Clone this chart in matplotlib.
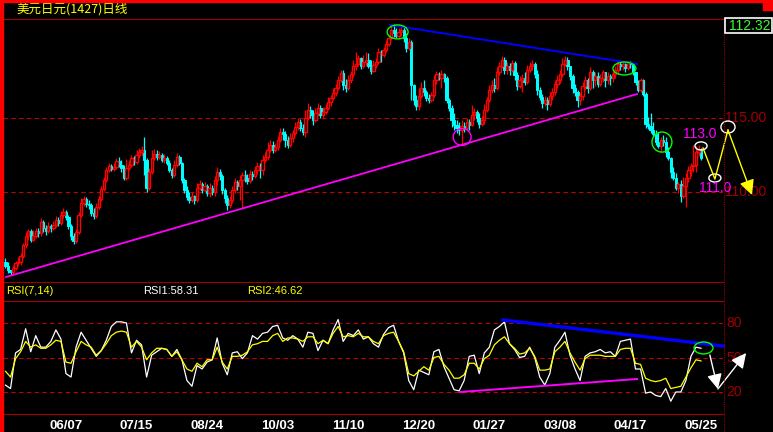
import matplotlib
matplotlib.use('Agg')
import matplotlib.pyplot as plt
import matplotlib.transforms as mtransforms
from matplotlib.lines import Line2D
from matplotlib.patches import Ellipse, Rectangle
import numpy as np

W, H = 773, 432

# 日线 K 线数据 (价格由图上读出)
first_open = 105.31
closes = [
    105.04, 104.77, 104.64, 104.91, 105.24,
    105.31, 105.71, 106.45, 107.06, 107.39,
    106.79, 107.06, 107.39, 107.26, 108.00,
    107.60, 107.39, 107.73, 107.60, 107.80,
    108.14, 107.93, 108.47, 108.67, 108.34,
    107.73, 107.06, 106.72, 107.33, 108.47,
    109.28, 109.55, 109.21, 109.14, 108.61,
    108.40, 109.01, 109.55, 110.22, 110.83,
    111.50, 111.77, 111.57, 111.70, 112.11,
    111.84, 111.63, 110.96, 111.63, 111.84,
    112.31, 112.04, 112.51, 112.71, 112.85,
    112.17, 110.29, 111.37, 112.31, 112.58,
    112.38, 112.51, 112.17, 112.31, 111.97,
    111.50, 111.16, 111.84, 112.38, 111.97,
    110.83, 110.16, 109.68, 109.48, 109.75,
    109.48, 110.29, 110.56, 110.16, 110.42,
    109.95, 110.29, 110.02, 110.83, 111.37,
    111.10, 110.16, 109.62, 109.14, 109.48,
    110.16, 110.69, 110.42, 110.83, 111.16,
    110.96, 110.76, 111.23, 111.10, 111.50,
    111.77, 111.50, 112.17, 112.38, 112.85,
    113.18, 112.85, 113.05, 113.52, 114.06,
    113.92, 113.52, 113.18, 113.65, 113.99,
    114.39, 114.73, 114.33, 114.06, 115.00,
    115.54, 115.20, 114.87, 115.34, 115.67,
    115.20, 115.40, 115.67, 116.08, 116.35,
    116.68, 117.02, 117.56, 118.03, 117.22,
    117.02, 117.56, 117.96, 118.50, 118.63,
    119.04, 118.50, 118.77, 118.90, 118.50,
    118.16, 118.57, 118.77, 119.44, 119.24,
    119.58, 119.98, 120.38, 120.92, 120.72,
    120.52, 120.79, 120.92, 120.38, 119.71,
    120.11, 117.22, 116.21, 115.81, 116.48,
    117.02, 116.75, 116.35, 116.21, 116.55,
    117.56, 117.96, 117.69, 117.96, 117.69,
    116.21, 115.67, 114.87, 114.53, 114.33,
    114.19, 114.46, 114.33, 114.73, 114.53,
    115.20, 115.40, 115.00, 114.60, 114.87,
    115.54, 116.21, 116.88, 117.22, 117.02,
    118.10, 118.50, 118.90, 118.23, 118.50,
    118.23, 118.70, 117.89, 117.15, 117.56,
    117.69, 117.42, 118.23, 118.50, 118.63,
    117.96, 116.88, 116.41, 116.01, 116.21,
    115.94, 116.48, 116.75, 117.29, 117.56,
    117.96, 118.63, 118.90, 118.50, 117.83,
    117.02, 116.75, 116.21, 116.48, 117.15,
    117.56, 117.02, 118.10, 117.56, 117.83,
    117.29, 117.69, 118.10, 117.56, 117.83,
    117.69, 117.96, 118.23, 118.63, 118.50,
    118.63, 118.37, 118.70, 118.63, 118.10,
    117.42, 116.88, 117.56, 116.61, 114.60,
    114.46, 114.19, 113.92, 113.38, 113.11,
    113.52, 113.38, 112.71, 112.31, 111.37,
    110.96, 110.29, 110.56, 109.75, 110.42,
    110.96, 111.50, 111.77, 111.84, 112.71,
    112.85, 112.32,
]
highs = [
    105.58, 105.31, 104.77, 105.10, 105.38,
    105.65, 105.92, 106.59, 107.33, 107.53,
    107.53, 107.46, 107.60, 107.60, 108.27,
    108.14, 107.80, 108.00, 107.87, 108.07,
    108.40, 108.34, 108.74, 108.94, 108.81,
    108.47, 107.87, 107.26, 107.53, 108.67,
    109.62, 109.75, 109.68, 109.48, 109.28,
    108.94, 109.28, 109.75, 110.42, 111.03,
    111.70, 111.97, 111.90, 111.97, 112.31,
    112.38, 112.17, 111.84, 112.24, 112.17,
    112.51, 112.44, 112.85, 112.98, 113.11,
    113.72, 112.31, 111.63, 112.85, 112.91,
    112.85, 112.78, 112.64, 112.58, 112.44,
    112.17, 111.63, 112.17, 112.64, 112.51,
    112.04, 110.96, 110.42, 110.02, 110.02,
    109.82, 110.63, 110.83, 110.69, 110.69,
    110.56, 110.63, 110.49, 111.10, 111.70,
    111.57, 111.23, 110.29, 109.82, 109.75,
    110.42, 110.96, 110.83, 111.16, 111.37,
    111.50, 111.23, 111.50, 111.43, 111.77,
    112.04, 111.97, 112.51, 112.71, 113.38,
    113.52, 113.45, 113.32, 113.79, 114.33,
    114.33, 114.12, 113.79, 113.99, 114.19,
    114.73, 115.00, 114.93, 114.60, 115.54,
    116.01, 115.81, 115.54, 115.67, 116.01,
    115.87, 115.74, 115.94, 116.41, 116.55,
    117.02, 117.29, 117.83, 118.23, 118.23,
    117.62, 117.89, 118.16, 118.90, 119.44,
    119.24, 119.10, 119.24, 119.44, 119.37,
    118.90, 118.90, 119.04, 119.71, 119.58,
    119.78, 120.25, 120.58, 121.19, 121.33,
    121.06, 121.06, 121.19, 121.13, 120.72,
    120.38, 120.25, 117.29, 116.55, 117.02,
    117.42, 117.56, 116.88, 116.61, 116.75,
    117.89, 118.16, 118.10, 118.23, 118.03,
    117.83, 116.35, 115.87, 115.34, 114.87,
    114.73, 114.87, 114.73, 115.00, 114.93,
    115.87, 115.67, 115.54, 115.34, 115.13,
    115.94, 116.41, 117.22, 117.56, 117.69,
    118.43, 118.77, 119.17, 119.10, 118.77,
    118.70, 118.90, 118.84, 118.10, 117.83,
    117.96, 118.10, 118.57, 118.77, 118.90,
    118.77, 118.23, 117.08, 116.61, 116.48,
    116.41, 116.75, 117.02, 117.56, 117.89,
    118.23, 119.04, 119.17, 119.10, 118.50,
    117.96, 117.29, 116.88, 116.75, 117.42,
    117.83, 117.69, 118.43, 118.23, 118.10,
    118.10, 117.96, 118.23, 118.10, 118.10,
    117.96, 118.16, 118.50, 118.84, 118.77,
    118.77, 118.70, 118.84, 118.84, 118.63,
    118.10, 117.56, 117.69, 117.62, 116.75,
    115.07, 115.34, 114.73, 114.19, 114.06,
    113.72, 113.86, 113.72, 113.05, 112.38,
    111.70, 111.30, 110.69, 110.83, 111.03,
    111.30, 111.77, 111.97, 113.18, 113.11,
    113.18, 112.98,
]
lows = [
    104.91, 104.57, 104.43, 104.50, 104.77,
    105.04, 105.10, 105.58, 106.25, 106.79,
    106.66, 106.72, 106.92, 106.99, 107.06,
    107.33, 107.12, 107.26, 107.33, 107.46,
    107.66, 107.73, 107.80, 108.27, 108.14,
    107.53, 106.79, 106.52, 106.59, 107.19,
    108.34, 109.08, 109.01, 108.88, 108.40,
    108.20, 108.27, 108.88, 109.41, 110.09,
    110.69, 111.37, 111.43, 111.43, 111.57,
    111.70, 111.37, 110.83, 110.83, 111.50,
    111.70, 111.84, 111.90, 112.31, 112.44,
    111.16, 110.02, 110.16, 111.23, 112.17,
    112.17, 112.24, 112.04, 111.97, 111.84,
    111.37, 110.96, 111.03, 111.70, 111.84,
    110.63, 109.95, 109.48, 109.28, 109.35,
    109.21, 109.35, 110.16, 109.95, 110.02,
    109.75, 109.68, 109.82, 109.75, 110.49,
    110.83, 109.89, 109.28, 108.81, 108.94,
    109.28, 109.95, 110.16, 109.48, 108.94,
    110.69, 110.56, 110.63, 110.83, 110.96,
    111.23, 110.96, 111.16, 112.04, 112.17,
    112.71, 112.64, 112.71, 112.85, 113.38,
    113.52, 113.05, 112.98, 113.05, 113.38,
    113.86, 114.19, 114.12, 113.86, 113.72,
    114.87, 115.00, 114.53, 114.73, 115.13,
    115.00, 115.00, 115.27, 115.54, 115.81,
    116.21, 116.48, 116.88, 117.42, 116.88,
    116.75, 116.88, 117.35, 117.76, 118.23,
    118.50, 118.30, 118.37, 118.50, 118.37,
    117.96, 118.10, 118.37, 118.63, 118.77,
    119.10, 119.44, 119.84, 120.25, 120.45,
    120.38, 120.38, 120.52, 120.11, 119.44,
    119.58, 116.21, 115.87, 115.54, 115.54,
    116.35, 116.48, 116.14, 116.01, 116.08,
    116.41, 117.29, 117.56, 117.02, 117.42,
    116.01, 115.47, 114.39, 114.19, 113.99,
    113.86, 113.18, 114.06, 114.12, 114.19,
    114.46, 114.87, 114.73, 114.33, 114.46,
    114.60, 115.40, 116.08, 116.68, 116.75,
    116.88, 117.89, 118.37, 117.96, 117.96,
    117.89, 118.10, 117.56, 116.88, 117.02,
    116.75, 117.22, 117.29, 118.10, 118.23,
    117.69, 116.55, 116.21, 115.67, 115.81,
    115.54, 115.81, 116.21, 116.55, 117.02,
    117.35, 117.76, 118.50, 118.23, 117.56,
    116.68, 116.48, 115.74, 115.87, 116.21,
    116.88, 116.68, 116.88, 117.02, 117.15,
    117.08, 117.15, 117.42, 117.08, 117.29,
    117.22, 117.42, 117.69, 117.96, 118.23,
    118.23, 118.10, 118.23, 118.37, 117.89,
    117.22, 116.75, 116.75, 116.48, 114.33,
    114.26, 113.99, 113.79, 113.18, 112.98,
    112.71, 113.11, 112.38, 112.17, 110.96,
    110.83, 110.16, 109.95, 109.35, 109.62,
    109.01, 110.69, 111.10, 111.37, 111.37,
    112.44, 112.17,
]

# RSI 读数, 每两根 K 线一个点
rsi_bars = list(range(0, 277, 2))
rsi1 = [
    26, 23, 54, 57, 75, 55, 69, 59, 59, 64,
    74, 66, 36, 33, 59, 72, 65, 58, 51, 56,
    65, 77, 81, 81, 80, 54, 65, 61, 33, 52,
    55, 58, 57, 51, 57, 48, 30, 25, 43, 40,
    46, 48, 67, 45, 35, 54, 55, 49, 54, 69,
    66, 71, 72, 77, 78, 67, 65, 69, 66, 59,
    72, 71, 56, 65, 62, 74, 83, 64, 71, 69,
    74, 66, 68, 62, 59, 70, 76, 78, 64, 54,
    30, 22, 39, 37, 35, 55, 57, 42, 32, 22,
    21, 30, 51, 52, 36, 54, 59, 74, 77, 81,
    62, 57, 50, 51, 59, 50, 33, 26, 36, 59,
    65, 72, 52, 40, 30, 51, 54, 55, 57, 54,
    55, 51, 64, 65, 66, 40, 40, 19, 20, 17,
    16, 23, 12, 20, 20, 30, 51, 59, 58,
]
rsi2 = [
    38, 33, 49, 55, 64, 59, 61, 58, 58, 61,
    65, 64, 46, 45, 55, 64, 61, 59, 52, 56,
    62, 69, 72, 73, 72, 59, 64, 59, 48, 54,
    58, 58, 57, 51, 55, 48, 40, 38, 45, 42,
    48, 48, 59, 46, 40, 51, 51, 52, 55, 61,
    62, 64, 64, 69, 71, 64, 67, 67, 66, 64,
    68, 68, 62, 65, 62, 71, 77, 68, 69, 68,
    71, 68, 68, 64, 62, 69, 71, 72, 64, 55,
    36, 34, 38, 42, 39, 50, 51, 44, 39, 32,
    32, 35, 45, 45, 40, 49, 52, 61, 65, 68,
    62, 58, 53, 54, 58, 51, 39, 39, 40, 55,
    59, 64, 54, 46, 39, 49, 52, 52, 52, 51,
    51, 51, 57, 58, 58, 45, 44, 32, 30, 29,
    30, 32, 23, 24, 25, 33, 41, 48, 47,
]

tick_bars = [24, 52, 80, 108, 136, 164, 192, 220, 248, 276]
tick_labels = ['06/07', '07/15', '08/24', '10/03', '11/10',
               '12/20', '01/27', '03/08', '04/17', '05/25']

# 手绘趋势线 (K 线序号, 价格)
resist_line = ([152.6, 250.6], [121.26, 118.63])
support_line = ([0.2, 250.6], [104.30, 116.61])
rsi_top_line = ([197.4, 284.7], [82.6, 60.0])
rsi_low_line = ([180.4, 250.6], [20.0, 31.3])
zigzag_x = [276.8, 281.5, 286.7, 296.2]
zigzag_y = [112.98, 110.89, 114.19, 109.82]

assert len(closes) == len(highs) == len(lows)
assert len(rsi1) == len(rsi2) == len(rsi_bars)

NARROW = ['Liberation Sans Narrow', 'Liberation Sans', 'DejaVu Sans']
DKRED = '#a00000'

fig = plt.figure(figsize=(W / 100, H / 100), dpi=100, facecolor='black')


def fy(y):
    return 1 - y / H


ax1 = fig.add_axes([3 / W, fy(281), 720 / W, 262 / H])
ax2 = fig.add_axes([3 / W, fy(413), 720 / W, 112 / H])
for ax in (ax1, ax2):
    ax.set_facecolor('black')
    for s in ax.spines.values():
        s.set_visible(False)
    ax.set_xlim(-0.99, 284.72)
ax1.set_ylim(104.03, 121.66)
ax2.set_ylim(1.74, 99.13)
ax1.set_xticks([])
ax1.set_yticks([])
ax2.set_yticks([])

# ---- K 线 ----
c = np.array(closes)
o = np.array([first_open] + closes[:-1])
h = np.array(highs)
l = np.array(lows)
x = np.arange(len(c))
top = np.maximum(o, c)
bot = np.minimum(o, c)
up = c > o
dn = ~up
cols = np.where(up, '#ff0000', '#00ffff')
ax1.vlines(x, top, np.maximum(h, top), colors=cols, lw=0.9)
ax1.vlines(x, np.minimum(l, bot), bot, colors=cols, lw=0.9)
body = np.maximum(top - bot, 0.04)
ax1.bar(x[dn], body[dn], bottom=bot[dn], width=0.9, color='#00ffff',
        edgecolor='#00ffff', lw=0.7)
ax1.bar(x[up], body[up], bottom=bot[up], width=0.9, facecolor='black',
        edgecolor='#ff0000', lw=1.0)

for lvl in (115, 110):
    ax1.axhline(lvl, color='#c00000', lw=0.8, ls=(0, (4, 3)), zorder=0)

# 趋势线与标记
ax1.plot(*resist_line, color='#0000ff', lw=1.4)
ax1.plot(*support_line, color='#ff00ff', lw=1.3)
ell = [((155.6, 120.79), 8.3, 0.94, '#00ff00'),
       ((181.2, 113.72), 7.1, 1.14, '#ff00ff'),
       ((245.6, 118.33), 9.1, 0.87, '#00ff00'),
       ((260.5, 113.38), 7.9, 1.35, '#00ff00'),
       ((276.0, 113.12), 4.8, 0.54, 'white'),
       ((281.5, 110.96), 4.8, 0.54, 'white'),
       ((286.7, 114.39), 5.6, 0.81, 'white')]
for cen, w, hh, col in ell:
    ax1.add_patch(Ellipse(cen, w, hh, fill=False, edgecolor=col, lw=1,
                          clip_on=False, zorder=5))
ax1.plot(zigzag_x[:-1], zigzag_y[:-1], color='yellow', lw=1, clip_on=False,
         zorder=6)
ax1.annotate('', xy=(zigzag_x[-1], zigzag_y[-1]),
             xytext=(zigzag_x[-2], zigzag_y[-2]),
             arrowprops=dict(arrowstyle='-|>,head_length=0.9,head_width=0.45',
                             color='yellow', lw=1, shrinkA=0, shrinkB=0),
             annotation_clip=False, zorder=7)
ax1.text(268.8, 113.92, '113.0', color='#ff00ff', fontsize=10,
         family=NARROW, va='center', ha='left', clip_on=False, zorder=6)
ax1.text(275.2, 110.29, '111.0', color='#ff00ff', fontsize=10,
         family=NARROW, va='center', ha='left', clip_on=False, zorder=6)

# ---- RSI ----
ax2.plot(rsi_bars, rsi1, color='white', lw=0.9)
ax2.plot(rsi_bars, rsi2, color='#ffff00', lw=0.9)
for lvl in (80, 50, 20):
    ax2.axhline(lvl, color='#c00000', lw=0.8, ls=(0, (4, 3)), zorder=0)
ax2.plot(*rsi_top_line, color='#0000ff', lw=2.4, clip_on=False)
ax2.plot(*rsi_low_line, color='#ff00ff', lw=1.4)
ax2.add_patch(Ellipse((277.0, 58.3), 7.5, 10.4, fill=False,
                      edgecolor='#00ff00', lw=1, clip_on=False, zorder=5))
wa = dict(arrowstyle='-|>,head_length=0.9,head_width=0.45', color='white',
          lw=1, shrinkA=0, shrinkB=0)
ax2.annotate('', xy=(282.7, 22.6), xytext=(279.5, 52.2), arrowprops=wa,
             annotation_clip=False, zorder=7)
ax2.annotate('', xy=(293.9, 53.9), xytext=(282.7, 22.6), arrowprops=wa,
             annotation_clip=False, zorder=7)

ax2.set_xticks(tick_bars)
ax2.set_xticklabels(tick_labels, color='white', fontweight='bold',
                    fontsize=9.5, family=['Liberation Sans', 'DejaVu Sans'])
ax2.tick_params(axis='x', length=0, pad=5)

# 右侧刻度文字
tr1 = mtransforms.blended_transform_factory(fig.transFigure, ax1.transData)
tr2 = mtransforms.blended_transform_factory(fig.transFigure, ax2.transData)
ax1.text(725 / W, 115, '115.00', transform=tr1, color=DKRED, fontsize=10,
         family=NARROW, va='center', ha='left', clip_on=False, zorder=1)
ax1.text(725 / W, 110, '110.00', transform=tr1, color=DKRED, fontsize=10,
         family=NARROW, va='center', ha='left', clip_on=False, zorder=1)
for lvl in (80, 50, 20):
    ax2.text(726 / W, lvl, str(lvl), transform=tr2, color=DKRED, fontsize=10,
             family=NARROW, va='center', ha='left', clip_on=False, zorder=1)

# ---- 边框与分隔线 ----
def hline_px(y, x0, x1, **kw):
    fig.add_artist(Line2D([x0 / W, x1 / W], [fy(y), fy(y)],
                          transform=fig.transFigure, **kw))


for yy in (19, 281.5, 300.5, 413.5):
    hline_px(yy, 3, 723, color=DKRED, lw=0.8)
fig.add_artist(Line2D([723.5 / W, 723.5 / W], [fy(19), 0],
                      transform=fig.transFigure, color=DKRED, lw=0.8,
                      ls=(0, (1, 1))))
fig.add_artist(Rectangle((0, 0), 3 / W, 1, transform=fig.transFigure,
                         color='#ff0000', zorder=10))
fig.add_artist(Rectangle((0, fy(2)), 1, 2 / H, transform=fig.transFigure,
                         color='#ff0000', zorder=10))
fig.add_artist(Rectangle((763 / W, fy(10)), 10 / W, 10 / H,
                         transform=fig.transFigure, color='#ff0000', zorder=10))
fig.add_artist(Rectangle((724.5 / W, fy(33)), 47 / W, 15 / H,
                         transform=fig.transFigure, facecolor='black',
                         edgecolor='white', lw=1.2, zorder=10))
fig.text(729 / W, fy(25.5), '112.32', color='#33ff33', fontsize=10,
         family=NARROW, va='center', ha='left', zorder=11)

fig.text(16 / W, fy(8.5), '美元日元(1427)日线', color='#ffff00', fontsize=9,
         family=['Noto Sans CJK SC', 'DejaVu Sans'], va='center', ha='left')
fig.text(6 / W, fy(291), 'RSI(7,14)', color='#ffff00', fontsize=8,
         family=['Liberation Sans', 'DejaVu Sans'], va='center')
fig.text(143 / W, fy(291), 'RSI1:58.31', color='white', fontsize=8,
         family=['Liberation Sans', 'DejaVu Sans'], va='center')
fig.text(247 / W, fy(291), 'RSI2:46.62', color='#ffff00', fontsize=8,
         family=['Liberation Sans', 'DejaVu Sans'], va='center')

fig.savefig('out.png', dpi=100, facecolor='black')
